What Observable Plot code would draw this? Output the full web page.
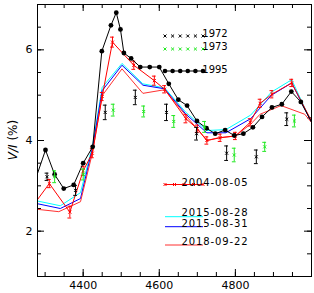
<!DOCTYPE html>
<html><head><meta charset="utf-8">
<script src="https://cdn.jsdelivr.net/npm/d3@7"></script>
<script src="https://cdn.jsdelivr.net/npm/@observablehq/plot@0.6"></script>
<style>body{margin:0;background:#fff}svg{display:block}</style>
</head><body><div id="chart"></div>
<script>
// ---- data ----
const wl1972 = [4305, 4380, 4458, 4537, 4619, 4698, 4777, 4855, 4935];
const v1972  = [3.20, 2.90, 4.62, 4.95, 4.62, 4.15, 3.72, 3.64, 4.47];
const e1972  = [0.08, 0.11, 0.16, 0.16, 0.18, 0.14, 0.16, 0.15, 0.14];

const wl1973 = [4325, 4400, 4479, 4559, 4638, 4719, 4797, 4877, 4955];
const v1973  = [3.20, 3.25, 4.67, 4.64, 4.42, 4.30, 3.68, 3.86, 4.43];
const e1973  = [0.13, 0.12, 0.13, 0.12, 0.13, 0.12, 0.15, 0.10, 0.13];

const wl1995 = [4275, 4301, 4325, 4349, 4375, 4400, 4425, 4449, 4473, 4487, 4498, 4507, 4526, 4550, 4575, 4600, 4625, 4650, 4673, 4699, 4724, 4747, 4773, 4797, 4821, 4846, 4870, 4896, 4922, 4947, 4972, 5010];
const v1995  = [3.15, 3.79, 3.25, 2.94, 3.02, 3.50, 3.86, 5.97, 6.54, 6.82, 6.45, 5.93, 5.81, 5.62, 5.62, 5.62, 5.25, 4.90, 4.77, 4.43, 4.27, 4.15, 4.23, 4.11, 4.15, 4.29, 4.52, 4.73, 4.80, 5.08, 4.85, 4.25];

const wl2004 = [4260, 4311, 4365, 4400, 4424, 4450, 4477, 4533, 4587, 4614, 4670, 4700, 4725, 4760, 4800, 4839, 4865, 4896, 4948, 5005];
const v2004  = [2.47, 3.05, 2.42, 3.33, 3.72, 4.97, 6.17, 5.66, 5.32, 5.13, 4.48, 4.26, 4.00, 4.06, 4.10, 4.40, 4.82, 5.02, 5.27, 4.35];
const e2004  = [0.08, 0.09, 0.13, 0.10, 0.10, 0.09, 0.11, 0.09, 0.10, 0.08, 0.09, 0.08, 0.08, 0.08, 0.08, 0.08, 0.09, 0.08, 0.08, 0.08];

const wl20150828 = [4260, 4340, 4393, 4425, 4450, 4502, 4557, 4614, 4670, 4725, 4775, 4840, 4895, 4948, 5000];
const v20150828  = [2.70, 2.56, 2.85, 3.90, 5.17, 5.70, 5.25, 5.16, 4.62, 4.22, 4.24, 4.56, 5.07, 5.34, 4.40];

const wl20150831 = [4260, 4340, 4393, 4425, 4450, 4502, 4557, 4614, 4670, 4725, 4775, 4840, 4895, 4948, 5000];
const v20150831  = [2.64, 2.50, 2.72, 3.85, 5.10, 5.66, 5.22, 5.14, 4.58, 4.17, 4.17, 4.48, 5.00, 5.27, 4.40];

const wl20180922 = [4260, 4336, 4393, 4425, 4450, 4502, 4557, 4614, 4670, 4725, 4755, 4800, 4840, 4865, 4920, 4982, 5010];
const v20180922  = [2.50, 2.43, 2.65, 3.75, 4.99, 5.58, 5.04, 5.12, 4.55, 4.00, 4.06, 4.10, 4.36, 4.58, 4.77, 4.58, 4.30];

// axis ticks
const xMajor = [4400, 4600, 4800];
const xMinor = d3.range(4300, 5000, 50);
const yMajor = [2, 4, 6];
const yMinor = d3.range(1.5, 7, 0.5);

// ---- tables ----
const tab = (xs, vs, es) => xs.map((x, i) => ({x, v: vs[i], e: es ? es[i] : 0}));
const t1972 = tab(wl1972, v1972, e1972);
const t1973 = tab(wl1973, v1973, e1973);
const t1995 = tab(wl1995, v1995);
const t2004 = tab(wl2004, v2004, e2004);
const tC = tab(wl20150828, v20150828);
const tB = tab(wl20150831, v20150831);
const tR = tab(wl20180922, v20180922);

const RED = "#ff0000", GREEN = "#20e820", CYAN = "#00ffff", BLUE = "#0000ff", PINK = "#ff3030";
const FONT = "'DejaVu Sans', 'Liberation Sans', sans-serif";
const W = 314, H = 293, mL = 37, mR = 3, mT = 4, mB = 17;
const fw = W - mL - mR, fh = H - mT - mB;
const capW = 5;

function errMarks(t, color) {
  return [
    Plot.ruleX(t, {x: "x", y1: d => d.v - d.e, y2: d => d.v + d.e, stroke: color, strokeWidth: 1, clip: true}),
    Plot.ruleY(t, {y: d => d.v + d.e, x1: d => d.x - capW, x2: d => d.x + capW, stroke: color, strokeWidth: 1, clip: true}),
    Plot.ruleY(t, {y: d => d.v - d.e, x1: d => d.x - capW, x2: d => d.x + capW, stroke: color, strokeWidth: 1, clip: true})
  ];
}

const chart = Plot.plot({
  width: W, height: H,
  marginLeft: mL, marginRight: mR, marginTop: mT, marginBottom: mB,
  style: {fontFamily: FONT, fontSize: "11px", background: "#fff", color: "#000"},
  x: {domain: [4280, 5000], axis: null},
  y: {domain: [1, 7], axis: null},
  marks: [
    // ticks (inward, all four sides)
    Plot.tickX(xMinor, {x: d => d, insetTop: fh - 4, stroke: "#000"}),
    Plot.tickX(xMajor, {x: d => d, insetTop: fh - 7, stroke: "#000"}),
    Plot.tickX(xMinor, {x: d => d, insetBottom: fh - 4, stroke: "#000"}),
    Plot.tickX(xMajor, {x: d => d, insetBottom: fh - 7, stroke: "#000"}),
    Plot.tickY(yMinor, {y: d => d, insetRight: fw - 4, stroke: "#000"}),
    Plot.tickY(yMajor, {y: d => d, insetRight: fw - 7, stroke: "#000"}),
    Plot.tickY(yMinor, {y: d => d, insetLeft: fw - 4, stroke: "#000"}),
    Plot.tickY(yMajor, {y: d => d, insetLeft: fw - 7, stroke: "#000"}),
    Plot.axisX({ticks: xMajor, tickSize: 0, tickPadding: 5, tickFormat: d => String(d), fontSize: 11, label: null}),
    Plot.axisY({ticks: yMajor, tickSize: 0, tickPadding: 5, tickFormat: d => String(d), fontSize: 11, label: null}),
    // series
    Plot.line(tC, {x: "x", y: "v", stroke: CYAN, strokeWidth: 1, clip: true}),
    Plot.line(tB, {x: "x", y: "v", stroke: BLUE, strokeWidth: 1, clip: true}),
    Plot.line(tR, {x: "x", y: "v", stroke: PINK, strokeWidth: 1, clip: true}),
    Plot.line(t2004, {x: "x", y: "v", stroke: RED, strokeWidth: 1, clip: true}),
    ...errMarks(t2004, RED),
    Plot.dot(t2004, {x: "x", y: "v", symbol: "times", r: 1.5, stroke: RED, strokeWidth: 1, clip: true}),
    Plot.line(t1995, {x: "x", y: "v", stroke: "#000", strokeWidth: 1, clip: true}),
    Plot.dot(t1995, {x: "x", y: "v", r: 2.4, fill: "#000", clip: true}),
    ...errMarks(t1972, "#000"),
    Plot.dot(t1972, {x: "x", y: "v", symbol: "times", r: 1.5, stroke: "#000", strokeWidth: 1, clip: true}),
    ...errMarks(t1973, GREEN),
    Plot.dot(t1973, {x: "x", y: "v", symbol: "times", r: 1.5, stroke: GREEN, strokeWidth: 1, clip: true}),
    Plot.frame({stroke: "#000", strokeWidth: 1})
  ]
});
document.getElementById("chart").appendChild(chart);

// ---- legend & y label overlay ----
const svg = d3.select(chart);
const g = svg.append("g").attr("font-family", FONT).attr("font-size", 10);
const lx0 = 165, lx1 = 203, tx = 215;
const times = d3.symbol(d3.symbolTimes, 7);
function markers(y, n, color, kind) {
  for (let i = 0; i < n; i++) {
    const x = lx0 + i * (lx1 - lx0) / (n - 1);
    if (kind === "dot") g.append("circle").attr("cx", x).attr("cy", y).attr("r", 2.3).attr("fill", color);
    else g.append("path").attr("d", times()).attr("transform", `translate(${x},${y})`).attr("stroke", color).attr("stroke-width", 1).attr("fill", "none");
  }
}
function lineSeg(y, color) {
  g.append("line").attr("x1", lx0).attr("x2", lx1).attr("y1", y).attr("y2", y).attr("stroke", color).attr("stroke-width", 1);
}
function label(y, s, ls) {
  g.append("text").attr("x", tx).attr("y", y).attr("dy", "0.35em").attr("letter-spacing", ls || 0).attr("fill", "#000").text(s);
}
markers(36, 6, "#000", "x");       label(33.5, "1972");
markers(49, 6, GREEN, "x");        label(46.5, "1973");
lineSeg(71, "#000"); markers(71, 6, "#000", "dot"); label(69, "1995");
lineSeg(184.5, RED); markers(184.5, 5, RED, "x"); label(182, "2004-08-05", 0.9);
lineSeg(216.7, CYAN); label(212.5, "2015-08-28", 0.9);
lineSeg(226.7, BLUE); label(223.5, "2015-08-31", 0.9);
lineSeg(245, PINK);   label(241, "2018-09-22", 0.9);

const yl = g.append("text").attr("transform", `translate(13,${mT + fh / 2}) rotate(-90)`)
  .attr("text-anchor", "middle").attr("dy", "0.35em").attr("font-size", 12).attr("fill", "#000");
yl.append("tspan").attr("font-style", "italic").text("V/I");
yl.append("tspan").text(" (%)");
</script>
</body></html>
